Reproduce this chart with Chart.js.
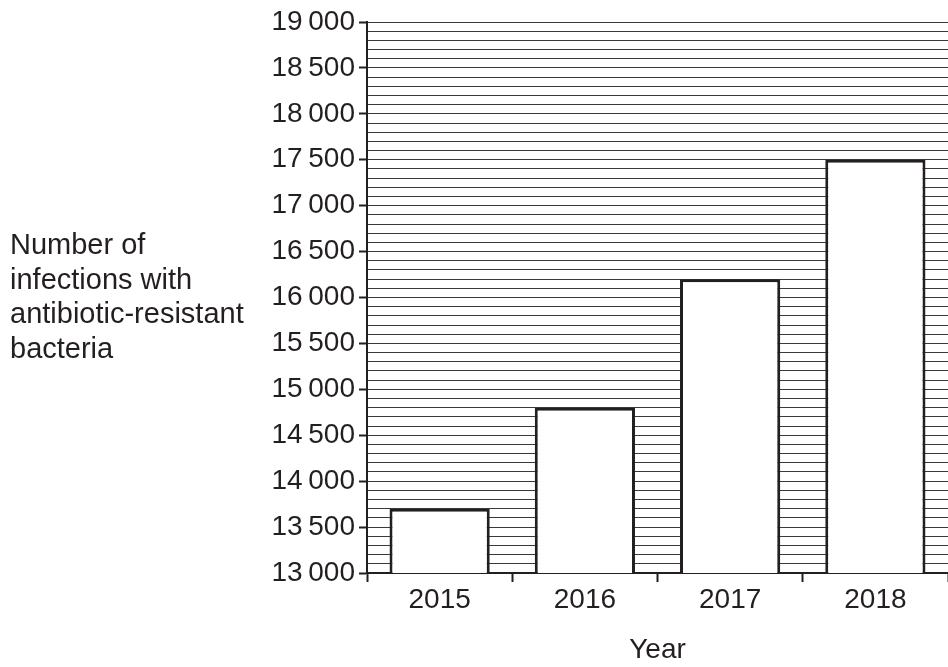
<!DOCTYPE html>
<html>
<head>
<meta charset="utf-8">
<script src="https://cdn.jsdelivr.net/npm/chart.js@4/dist/chart.umd.min.js"></script>
<style>
  html, body { margin: 0; padding: 0; background: #fff; overflow: hidden; }
  #wrap { width: 948px; height: 667px; }
</style>
</head>
<body>
<div id="wrap"><canvas id="bacteriaChart" width="948" height="667"></canvas></div>
<script>
// dane z wykresu
const years = ['2015', '2016', '2017', '2018'];
const infections = [13700, 14800, 16200, 17500];
const yMin = 13000;
const yMax = 19000;
const yStep = 100;       // linie siatki co 100
const yLabelStep = 500;  // opisy osi co 500
const yTitleLines = ['Number of', 'infections with', 'antibiotic-resistant', 'bacteria'];
const xTitle = 'Year';

const FONT = 'Liberation Sans, Arial, sans-serif';
const ink = '#231f20';

function fmt(v) {
    // 19000 -> "19 000" (cienka spacja)
    return String(v).replace(/(\d+)(\d{3})$/, '$1\u2009$2');
}

// tytuł osi Y poziomo, po lewej
const leftTitle = {
    id: 'leftTitle',
    afterDraw(chart) {
        const ctx = chart.ctx;
        ctx.save();
        ctx.fillStyle = ink;
        ctx.font = '29px ' + FONT;
        ctx.textAlign = 'left';
        ctx.textBaseline = 'alphabetic';
        yTitleLines.forEach((line, i) => {
            ctx.fillText(line, 10, 254 + i * 34.5);
        });
        ctx.restore();
    }
};

const ctx = document.getElementById('bacteriaChart').getContext('2d');
new Chart(ctx, {
    type: 'bar',
    data: {
        labels: years,
        datasets: [{
            data: infections,
            backgroundColor: '#ffffff',
            borderColor: ink,
            borderWidth: 3,
            barPercentage: 0.69,
            categoryPercentage: 1.0
        }]
    },
    options: {
        responsive: false,
        animation: false,
        devicePixelRatio: 1,
        layout: { padding: { top: 22, left: 0, right: 0, bottom: 0 } },
        plugins: {
            legend: { display: false },
            tooltip: { enabled: false }
        },
        scales: {
            x: {
                afterFit(scale) { scale.height = 94; },
                border: { display: true, color: ink, width: 2 },
                grid: {
                    offset: true,
                    drawOnChartArea: false,
                    drawTicks: true,
                    tickLength: 9,
                    tickColor: (c) => c.index >= years.length ? 'rgba(0,0,0,0)' : ink,
                    tickWidth: 2
                },
                ticks: {
                    color: ink,
                    padding: 1,
                    font: { family: FONT, size: 28 }
                },
                title: {
                    display: true,
                    text: xTitle,
                    color: ink,
                    padding: { top: 0, bottom: 0 },
                    font: { family: FONT, size: 28 }
                }
            },
            y: {
                min: yMin,
                max: yMax,
                afterFit(scale) { scale.width = 367; },
                border: { display: true, color: ink, width: 2 },
                grid: {
                    color: '#3a3a3a',
                    lineWidth: 1,
                    drawTicks: true,
                    tickLength: 8,
                    tickWidth: 2,
                    tickColor: (c) => (c.tick && c.tick.value % yLabelStep === 0) ? ink : 'rgba(0,0,0,0)'
                },
                ticks: {
                    stepSize: yStep,
                    autoSkip: false,
                    color: ink,
                    padding: 4,
                    font: { family: FONT, size: 28 },
                    callback: (v) => (v % yLabelStep === 0) ? fmt(v) : ''
                }
            }
        }
    },
    plugins: [leftTitle]
});
</script>
</body>
</html>
